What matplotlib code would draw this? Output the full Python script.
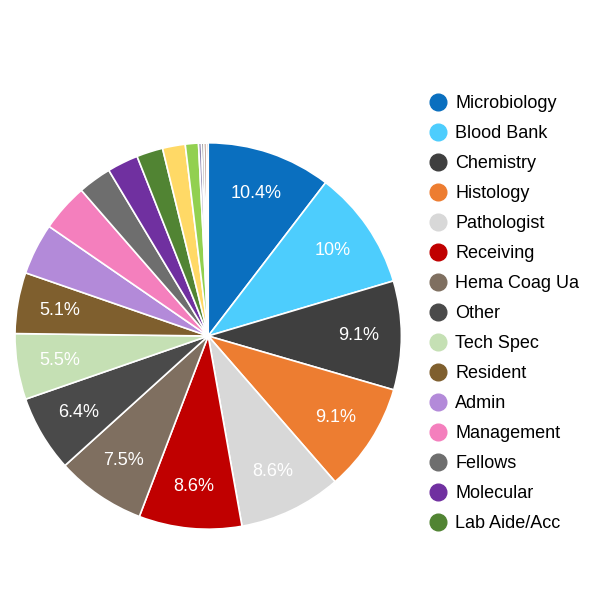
import matplotlib.pyplot as plt
from matplotlib.lines import Line2D

plt.rcParams['font.family'] = ['Liberation Sans', 'DejaVu Sans']

# slices, clockwise from 12 o'clock; the last few are not in the legend
labels = ['Microbiology', 'Blood Bank', 'Chemistry', 'Histology', 'Pathologist',
          'Receiving', 'Hema Coag Ua', 'Other', 'Tech Spec', 'Resident',
          'Admin', 'Management', 'Fellows', 'Molecular', 'Lab Aide/Acc',
          'Misc 1', 'Misc 2', 'Misc 3', 'Misc 4', 'Misc 5', 'Misc 6']
values = [10.4, 10.0, 9.1, 9.1, 8.6,
          8.6, 7.5, 6.4, 5.5, 5.1,
          4.3, 4.0, 2.8, 2.6, 2.2,
          1.9, 1.1, 0.25, 0.2, 0.2, 0.15]
colors = ['#0a6fbf', '#4dcdfd', '#3f3f3f', '#ed7d31', '#d8d8d8',
          '#c00000', '#7f6f60', '#4a4a4a', '#c5e0b4', '#7f5f2e',
          '#b38ad9', '#f47fbd', '#6e6e6e', '#7030a0', '#518433',
          '#ffd966', '#92d050', '#8f86b0', '#6a6a6a', '#7a3a22', '#5a3a2e']
n_legend = 15


def fmt(p):
    if p < 5:
        return ''
    s = f'{p:.1f}'
    if s.endswith('.0'):
        s = s[:-2]
    return s + '%'


fig = plt.figure(figsize=(6, 6), dpi=100)
ax = fig.add_axes([0.025, 0.118, 0.644, 0.644])
wedges, texts, autotexts = ax.pie(
    values, colors=colors, startangle=90, counterclock=False,
    autopct=fmt, pctdistance=0.78,
    wedgeprops=dict(edgecolor='white', linewidth=1.2),
    textprops=dict(color='white', fontsize=13))
ax.set_xlim(-1, 1)
ax.set_ylim(-1, 1)
ax.set_aspect('equal')

handles = [Line2D([0], [0], marker='o', linestyle='', markersize=12,
                  markerfacecolor=c, markeredgecolor=c)
           for c in colors[:n_legend]]
fig.legend(handles, labels[:n_legend], loc='upper left',
           bbox_to_anchor=(0.688, 0.868), frameon=False, fontsize=13,
           labelspacing=0.72, handlelength=1.0, handletextpad=0.45)

fig.savefig('out.png', dpi=100, facecolor='white')
